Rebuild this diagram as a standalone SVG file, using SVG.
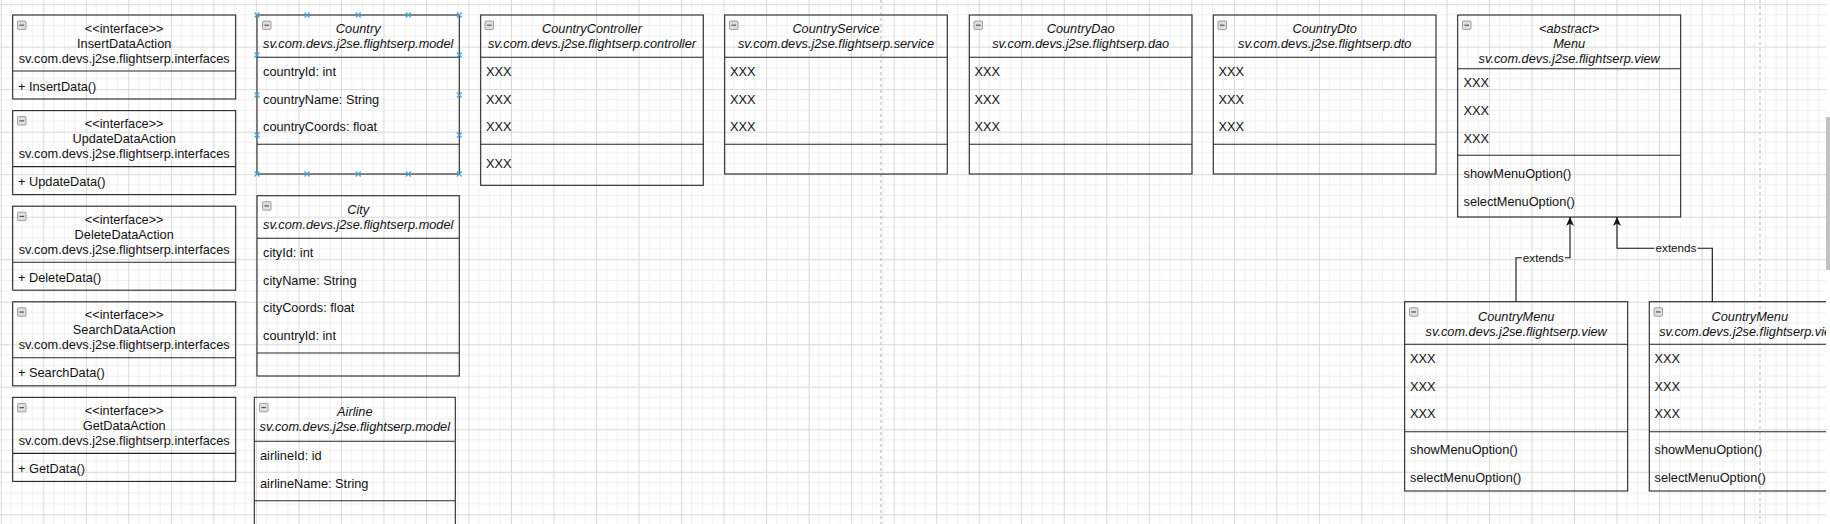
<svg xmlns="http://www.w3.org/2000/svg" xmlns:xlink="http://www.w3.org/1999/xlink" width="1830" height="524" viewBox="0 0 1830 524">
<style>
.box{fill:none;stroke:#262626;stroke-width:1.1}
.ln{fill:none;stroke:#262626;stroke-width:1.1}
.t{font-family:"Liberation Sans",Arial,sans-serif;font-size:12.75px;fill:#111}
.c{text-anchor:middle}
.i{font-style:italic}
.lbl{font-family:"Liberation Sans",Arial,sans-serif;font-size:11.7px;fill:#111;text-anchor:middle}
.edge{fill:none;stroke:#111;stroke-width:1.1}
.hd{fill:none;stroke:#3aa3e3;stroke-width:1.1}
</style>
<defs>
<pattern id="grid" x="0.76" y="4.1" width="42.52" height="42.52" patternUnits="userSpaceOnUse">
<path d="M10.63,0V42.52M21.26,0V42.52M31.89,0V42.52M0,10.63H42.52M0,21.26H42.52M0,31.89H42.52" stroke="#f0f0f0" stroke-width="1" fill="none"/>
<path d="M0.5,0V42.52M0,0.5H42.52" stroke="#d9d9d9" stroke-width="1" fill="none"/>
</pattern>
<g id="ic"><rect x="0" y="0" width="8.5" height="8.5" rx="1" fill="#dedede" stroke="#8c8c8c" stroke-width="0.8"/><path d="M2,4.25H6.5" stroke="#555" stroke-width="1.2"/></g>
<marker id="arr" viewBox="0 0 9 8" refX="9" refY="4" markerWidth="9" markerHeight="8" markerUnits="userSpaceOnUse" orient="auto">
<path d="M0,0L9,4L0,8L2.5,4Z" fill="#111"/>
</marker>
</defs>
<rect x="0" y="0" width="1830" height="524" fill="#ffffff"/>
<rect x="0" y="0" width="1830" height="524" fill="url(#grid)"/>
<g id="page-breaks" stroke="#b3b3b3" stroke-width="1" stroke-dasharray="3,3">
<path d="M881,0V524M1760,0V524"/>
</g>

<g id="InsertDataAction">
<rect class="box" x="12.7" y="15" width="223" height="84"/>
<path class="ln" d="M12.7,71H235.7"/>
<use xlink:href="#ic" x="17.5" y="21"/>
<text class="t c" x="124.2" y="32.5">&lt;&lt;interface&gt;&gt;</text>
<text class="t c" x="124.2" y="47.5">InsertDataAction</text>
<text class="t c" x="124.2" y="62.5">sv.com.devs.j2se.flightserp.interfaces</text>
<text class="t" x="18" y="90.5">+ InsertData()</text>
</g>

<g id="UpdateDataAction">
<rect class="box" x="12.7" y="110.6" width="223" height="84"/>
<path class="ln" d="M12.7,166.6H235.7"/>
<use xlink:href="#ic" x="17.5" y="116.6"/>
<text class="t c" x="124.2" y="128.1">&lt;&lt;interface&gt;&gt;</text>
<text class="t c" x="124.2" y="143.1">UpdateDataAction</text>
<text class="t c" x="124.2" y="158.1">sv.com.devs.j2se.flightserp.interfaces</text>
<text class="t" x="18" y="186.1">+ UpdateData()</text>
</g>

<g id="DeleteDataAction">
<rect class="box" x="12.7" y="206.2" width="223" height="84"/>
<path class="ln" d="M12.7,262.2H235.7"/>
<use xlink:href="#ic" x="17.5" y="212.2"/>
<text class="t c" x="124.2" y="223.7">&lt;&lt;interface&gt;&gt;</text>
<text class="t c" x="124.2" y="238.7">DeleteDataAction</text>
<text class="t c" x="124.2" y="253.7">sv.com.devs.j2se.flightserp.interfaces</text>
<text class="t" x="18" y="281.7">+ DeleteData()</text>
</g>

<g id="SearchDataAction">
<rect class="box" x="12.7" y="301.8" width="223" height="84"/>
<path class="ln" d="M12.7,357.8H235.7"/>
<use xlink:href="#ic" x="17.5" y="307.8"/>
<text class="t c" x="124.2" y="319.3">&lt;&lt;interface&gt;&gt;</text>
<text class="t c" x="124.2" y="334.3">SearchDataAction</text>
<text class="t c" x="124.2" y="349.3">sv.com.devs.j2se.flightserp.interfaces</text>
<text class="t" x="18" y="377.3">+ SearchData()</text>
</g>

<g id="GetDataAction">
<rect class="box" x="12.7" y="397.4" width="223" height="84"/>
<path class="ln" d="M12.7,453.4H235.7"/>
<use xlink:href="#ic" x="17.5" y="403.4"/>
<text class="t c" x="124.2" y="414.9">&lt;&lt;interface&gt;&gt;</text>
<text class="t c" x="124.2" y="429.9">GetDataAction</text>
<text class="t c" x="124.2" y="444.9">sv.com.devs.j2se.flightserp.interfaces</text>
<text class="t" x="18" y="472.9">+ GetData()</text>
</g>

<g id="Country">
<rect class="box" x="257" y="15" width="202.3" height="159"/>
<path class="ln" d="M257,57.3H459.3M257,144.3H459.3"/>
<use xlink:href="#ic" x="262.5" y="21"/>
<text class="t c i" x="358.2" y="33.3">Country</text>
<text class="t c i" x="358.2" y="48.3">sv.com.devs.j2se.flightserp.model</text>
<text class="t" x="263" y="76">countryId: int</text>
<text class="t" x="263" y="103.6">countryName: String</text>
<text class="t" x="263" y="131.2">countryCoords: float</text>
<path class="hd" d="M254.5,12.5l5,5m0,-5l-5,5 M304.5,12.5l5,5m0,-5l-5,5 M355.7,12.5l5,5m0,-5l-5,5 M405.8,12.5l5,5m0,-5l-5,5 M456.8,12.5l5,5m0,-5l-5,5 M254.5,171.5l5,5m0,-5l-5,5 M304.5,171.5l5,5m0,-5l-5,5 M355.7,171.5l5,5m0,-5l-5,5 M405.8,171.5l5,5m0,-5l-5,5 M456.8,171.5l5,5m0,-5l-5,5 M254.5,52.5l5,5m0,-5l-5,5 M254.5,92.5l5,5m0,-5l-5,5 M254.5,132.5l5,5m0,-5l-5,5 M456.8,52.5l5,5m0,-5l-5,5 M456.8,92.5l5,5m0,-5l-5,5 M456.8,132.5l5,5m0,-5l-5,5"/>
</g>

<g id="City">
<rect class="box" x="257" y="195.7" width="202.3" height="180.3"/>
<path class="ln" d="M257,238.3H459.3M257,353H459.3"/>
<use xlink:href="#ic" x="262.5" y="201.7"/>
<text class="t c i" x="358.2" y="214.1">City</text>
<text class="t c i" x="358.2" y="229.1">sv.com.devs.j2se.flightserp.model</text>
<text class="t" x="263" y="257">cityId: int</text>
<text class="t" x="263" y="284.6">cityName: String</text>
<text class="t" x="263" y="312.2">cityCoords: float</text>
<text class="t" x="263" y="339.8">countryId: int</text>
</g>

<g id="Airline">
<path class="ln" d="M254.3,530V397.3H455.3V530M254.3,441.3H455.3M254.3,500.7H455.3"/>
<use xlink:href="#ic" x="259.5" y="403.3"/>
<text class="t c i" x="354.8" y="416.4">Airline</text>
<text class="t c i" x="354.8" y="431.4">sv.com.devs.j2se.flightserp.model</text>
<text class="t" x="260" y="460">airlineId: id</text>
<text class="t" x="260" y="487.6">airlineName: String</text>
</g>

<g id="CountryController">
<rect class="box" x="480.7" y="15" width="222.6" height="170.3"/>
<path class="ln" d="M480.7,57.3H703.3M480.7,144.3H703.3"/>
<use xlink:href="#ic" x="485" y="21"/>
<text class="t c i" x="592" y="33.3">CountryController</text>
<text class="t c i" x="592" y="48.3">sv.com.devs.j2se.flightserp.controller</text>
<text class="t" x="486" y="76">XXX</text>
<text class="t" x="486" y="103.6">XXX</text>
<text class="t" x="486" y="131.2">XXX</text>
<text class="t" x="486" y="167.5">XXX</text>
</g>

<g id="CountryService">
<rect class="box" x="724.7" y="15" width="222.6" height="159"/>
<path class="ln" d="M724.7,57.3H947.3M724.7,144.3H947.3"/>
<use xlink:href="#ic" x="729.5" y="21"/>
<text class="t c i" x="836" y="33.3">CountryService</text>
<text class="t c i" x="836" y="48.3">sv.com.devs.j2se.flightserp.service</text>
<text class="t" x="730" y="76">XXX</text>
<text class="t" x="730" y="103.6">XXX</text>
<text class="t" x="730" y="131.2">XXX</text>
</g>

<g id="CountryDao">
<rect class="box" x="969.3" y="15" width="222.7" height="159"/>
<path class="ln" d="M969.3,57.3H1192M969.3,144.3H1192"/>
<use xlink:href="#ic" x="974" y="21"/>
<text class="t c i" x="1080.7" y="33.3">CountryDao</text>
<text class="t c i" x="1080.7" y="48.3">sv.com.devs.j2se.flightserp.dao</text>
<text class="t" x="974.5" y="76">XXX</text>
<text class="t" x="974.5" y="103.6">XXX</text>
<text class="t" x="974.5" y="131.2">XXX</text>
</g>

<g id="CountryDto">
<rect class="box" x="1213.3" y="15" width="222.7" height="159"/>
<path class="ln" d="M1213.3,57.3H1436M1213.3,144.3H1436"/>
<use xlink:href="#ic" x="1218" y="21"/>
<text class="t c i" x="1324.7" y="33.3">CountryDto</text>
<text class="t c i" x="1324.7" y="48.3">sv.com.devs.j2se.flightserp.dto</text>
<text class="t" x="1218.5" y="76">XXX</text>
<text class="t" x="1218.5" y="103.6">XXX</text>
<text class="t" x="1218.5" y="131.2">XXX</text>
</g>

<g id="Menu">
<rect class="box" x="1457.7" y="15" width="223" height="202"/>
<path class="ln" d="M1457.7,68.7H1680.7M1457.7,155.3H1680.7"/>
<use xlink:href="#ic" x="1462.5" y="21"/>
<text class="t c i" x="1569.2" y="33.3">&lt;abstract&gt;</text>
<text class="t c i" x="1569.2" y="48.3">Menu</text>
<text class="t c i" x="1569.2" y="63.3">sv.com.devs.j2se.flightserp.view</text>
<text class="t" x="1463.5" y="87.3">XXX</text>
<text class="t" x="1463.5" y="114.9">XXX</text>
<text class="t" x="1463.5" y="142.5">XXX</text>
<text class="t" x="1463.5" y="178.3">showMenuOption()</text>
<text class="t" x="1463.5" y="205.9">selectMenuOption()</text>
</g>

<g id="CountryMenu1">
<rect class="box" x="1404.7" y="301.7" width="223" height="189.3"/>
<path class="ln" d="M1404.7,344.3H1627.7M1404.7,431.7H1627.7"/>
<use xlink:href="#ic" x="1409.5" y="307.7"/>
<text class="t c i" x="1516.2" y="320.5">CountryMenu</text>
<text class="t c i" x="1516.2" y="335.5">sv.com.devs.j2se.flightserp.view</text>
<text class="t" x="1410" y="362.9">XXX</text>
<text class="t" x="1410" y="390.5">XXX</text>
<text class="t" x="1410" y="418.1">XXX</text>
<text class="t" x="1410" y="454.3">showMenuOption()</text>
<text class="t" x="1410" y="481.9">selectMenuOption()</text>
</g>

<g id="CountryMenu2">
<rect class="box" x="1649.3" y="301.7" width="201" height="189.3"/>
<path class="ln" d="M1649.3,344.3H1850.3M1649.3,431.7H1850.3"/>
<use xlink:href="#ic" x="1654" y="307.7"/>
<text class="t c i" x="1749.8" y="320.5">CountryMenu</text>
<text class="t c i" x="1749.8" y="335.5">sv.com.devs.j2se.flightserp.view</text>
<text class="t" x="1654.5" y="362.9">XXX</text>
<text class="t" x="1654.5" y="390.5">XXX</text>
<text class="t" x="1654.5" y="418.1">XXX</text>
<text class="t" x="1654.5" y="454.3">showMenuOption()</text>
<text class="t" x="1654.5" y="481.9">selectMenuOption()</text>
</g>

<g id="connectors">
<path class="edge" d="M1516,301.7V257.8H1570V217" marker-end="url(#arr)"/>
<rect x="1521.8" y="251.3" width="43" height="13" fill="#fff"/>
<text class="lbl" x="1543.3" y="261.9">extends</text>
<path class="edge" d="M1712.3,301.7V248.3H1617V217" marker-end="url(#arr)"/>
<rect x="1654.5" y="241.8" width="43" height="13" fill="#fff"/>
<text class="lbl" x="1676" y="252.4">extends</text>
</g>

<g id="scrollbar">
<rect x="1826" y="0" width="4" height="524" fill="#ffffff"/>
<rect x="1826" y="117" width="4" height="153" fill="#c1c1c1"/>
</g>
</svg>
